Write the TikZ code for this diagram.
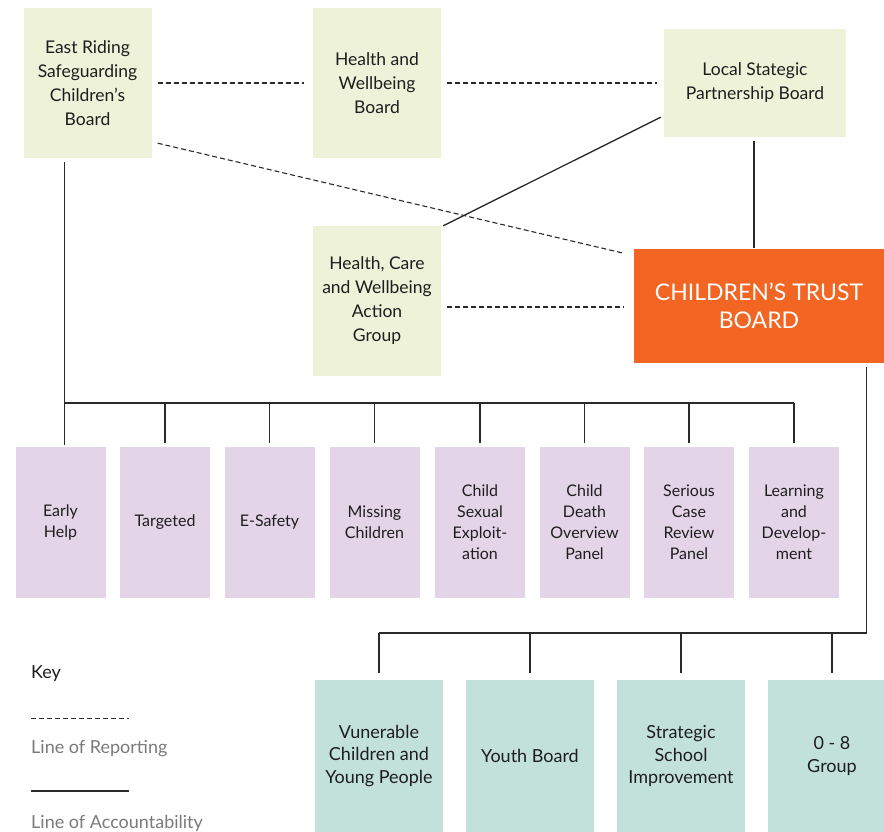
\documentclass[tikz,border=0pt]{standalone}
\usepackage{fontspec}
\setmainfont{Lato}
\usetikzlibrary{calc}
\definecolor{gbox}{HTML}{EEF2D8}
\definecolor{pbox}{HTML}{E3D4E8}
\definecolor{tbox}{HTML}{C3E1DB}
\definecolor{orng}{HTML}{F26522}
\definecolor{ln}{HTML}{2A2A2A}
\definecolor{keygray}{HTML}{7A7A7A}
\definecolor{txt}{HTML}{1E1E1E}
\begin{document}
\begin{tikzpicture}[x=1pt,y=-1pt,
  box/.style={rectangle, inner sep=0pt, align=center, text=txt},
  topbox/.style={box, fill=gbox, minimum width=128pt, minimum height=150pt, font=\fontsize{17.5}{24}\selectfont},
  subbox/.style={box, fill=pbox, minimum width=90pt, minimum height=151pt, font=\fontsize{16}{21}\selectfont},
  grpbox/.style={box, fill=tbox, minimum width=128pt, minimum height=152pt, font=\fontsize{18}{22.5}\selectfont},
  rep/.style={draw=ln, line width=1.3pt, dash pattern=on 5pt off 3pt},
  acc/.style={draw=ln, line width=1.3pt},
  keytext/.style={anchor=west, inner sep=0pt, font=\fontsize{18}{22}\selectfont},
]
\useasboundingbox (0,0) rectangle (884,832);
\clip (0,0) rectangle (884,832);

% top boxes
\node[topbox] (er) at (87.5,83) {East Riding\\Safeguarding\\Children’s\\Board};
\node[topbox] (hw) at (377,83) {Health and\\Wellbeing\\Board};
\node[topbox, minimum width=182pt, minimum height=108pt] (lsp) at (755,83) {Local Stategic\\Partnership Board};
\node[topbox] (hcw) at (377,301) {Health, Care\\and Wellbeing\\Action\\Group};
\node[box, fill=orng, text=white, minimum width=250pt, minimum height=114pt, font=\fontsize{23}{28}\selectfont] (ctb) at (759,306) {CHILDREN’S TRUST\\BOARD};

% sub groups
\node[subbox] (eh)   at (60.5,522.5) {Early\\Help};
\node[subbox] (tg)   at (165,522.5)  {Targeted};
\node[subbox] (es)   at (269.5,522.5){E-Safety};
\node[subbox] (mc)   at (374.5,522.5){Missing\\Children};
\node[subbox] (cse)  at (480,522.5)  {Child\\Sexual\\Exploit-\\ation};
\node[subbox] (cdop) at (584.5,522.5){Child\\Death\\Overview\\Panel};
\node[subbox] (scrp) at (689,522.5)  {Serious\\Case\\Review\\Panel};
\node[subbox] (ld)   at (794,522.5)  {Learning\\and\\Develop-\\ment};

% trust groups
\node[grpbox] (vcyp) at (379,756) {Vunerable\\Children and\\Young People};
\node[grpbox] (yb)   at (530,756) {Youth Board};
\node[grpbox] (ssi)  at (681,756) {Strategic\\School\\Improvement};
\node[grpbox] (g08)  at (832,756) {0 - 8\\Group};

% reporting lines
\draw[rep] ($(er.east)+(6,0)$) -- ($(hw.west)+(-9,0)$);
\draw[rep] ($(hw.east)+(6,0)$) -- ($(lsp.west)+(-7,0)$);
\draw[rep, line width=1.1pt] ($(er.south east)+(6,-15)$) -- ($(ctb.north west)+(-12,4)$);
\draw[rep] ($(hcw.east)+(6,6)$) -- ($(ctb.west)+(-10,1)$);

% accountability lines
\draw[acc] ($(lsp.south west)+(-3,-20)$) -- ($(hcw.north east)+(2,0)$);
\coordinate (lspb) at ($(lsp.south)+(-1,4)$);
\draw[acc] (lspb) -- ($(lspb |- ctb.north)+(0,-1)$);

\coordinate (erb) at ($(er.south west)+(41,4)$);
\coordinate (bus) at (0,403);
\draw[acc] (erb) -- ($(erb |- eh.north)+(0,-2)$);
\draw[acc] (erb |- bus) -- (bus -| ld.north);
\foreach \n in {tg,es,mc,cse,cdop,scrp,ld}
  \draw[acc, shorten >=4pt] (bus -| \n.north) -- (\n.north);

\coordinate (ctbb) at ($(ctb.south east)+(-18,4)$);
\coordinate (bustwo) at (0,633);
\draw[acc] (ctbb) -- (ctbb |- bustwo) -- (bustwo -| vcyp.north);
\foreach \n in {vcyp,yb,ssi,g08}
  \draw[acc, shorten >=7pt] (bustwo -| \n.north) -- (\n.north);

% key
\node[keytext, text=txt] (keyt) at (31,674) {Key};
\coordinate (kra) at (31,718);
\coordinate (krb) at (129,718);
\draw[rep, line width=1pt] (kra) -- (krb);
\node[keytext, text=keygray] (lrep) at (31,749) {Line of Reporting};
\coordinate (kaa) at (31,791);
\coordinate (kab) at (129,791);
\draw[acc] (kaa) -- (kab);
\node[keytext, text=keygray] (lacc) at (31,823) {Line of Accountability};
\end{tikzpicture}
\end{document}
